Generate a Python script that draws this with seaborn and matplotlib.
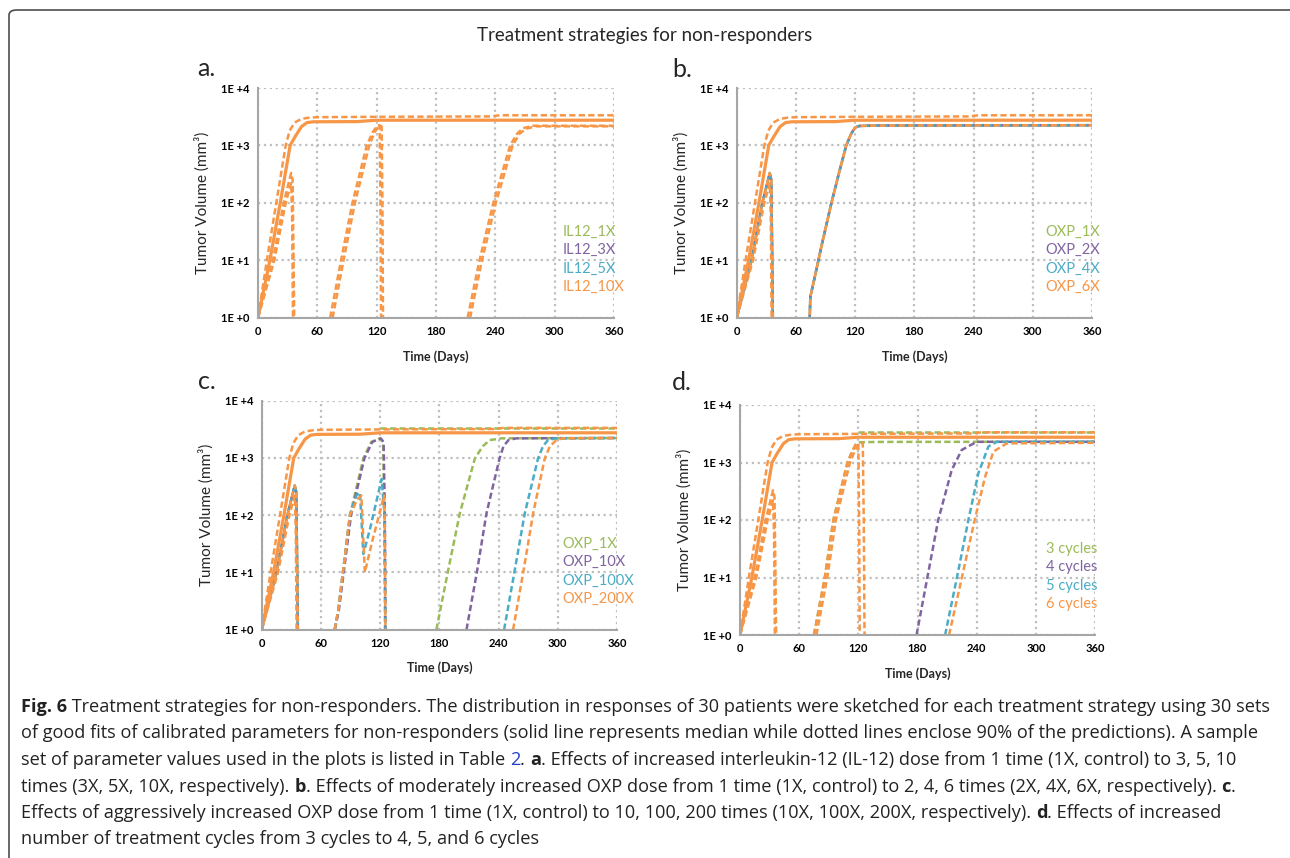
import matplotlib
matplotlib.use("Agg")
import matplotlib.pyplot as plt
from matplotlib.patches import FancyBboxPatch
import seaborn as sns

# ── Excel 2010 series colours ──
GREEN, PURPLE, CYAN, ORANGE = "#9BBB59", "#8064A2", "#4BACC6", "#F79646"
SERIES = [GREEN, PURPLE, CYAN, ORANGE]

# ── shared curves (median / upper 95% / early lower 5%) ──
MED_T = [0, 12, 22.5, 32.5, 37.5, 44, 49.5, 56, 100, 120, 360]
MED_V = [1, 10, 100, 1000, 1420, 2130, 2500, 2580, 2600, 2750, 2750]
UP_T = [0, 9, 18.5, 28, 32, 37, 44, 52, 60, 120, 235, 245, 360]
UP_V = [1, 10, 100, 1000, 1800, 2500, 2900, 3050, 3100, 3150, 3200, 3350, 3350]
LOW_T = [0, 15, 26, 33.5, 35, 36, 36.8]
LOW_V = [1, 10, 100, 330, 250, 10, 0.5]
LOW2_T = [0, 16.5, 28, 33.5, 34.5, 35.5]
LOW2_V = [1, 10, 100, 220, 60, 0.5]
UPG_T = [120, 240, 360]
UPG_V = [3350, 3350, 3350]

# ── panel a : IL-12 dose ──
A_MID_T = [73, 84, 95.5, 110, 116, 121, 123, 123.8, 124.5]
A_MID_V = [1, 10, 100, 1000, 1700, 2250, 2250, 100, 0.5]
A_MID2_T = [75.5, 86.5, 98, 112.5, 118, 122.5, 125, 125.8, 126.5]
A_MID2_V = [1, 10, 100, 1000, 1700, 2200, 2150, 100, 0.5]
A_LATE_T = [212, 224, 238, 255, 262, 268, 278, 360]
A_LATE_V = [1, 10, 100, 1000, 1600, 2000, 2200, 2200]
A_LATE2_T = [214.5, 226.5, 240.5, 257.5, 264.5, 271, 281, 360]
A_LATE2_V = [1, 10, 100, 1000, 1600, 1950, 2150, 2150]

# ── panel b : moderate OXP dose ──
B_REG_T = [74, 74.6, 80, 86, 96, 104, 111, 116, 120, 124, 140, 360]
B_REG_V = [1, 2.3, 6, 18, 100, 350, 1000, 1600, 2050, 2180, 2220, 2250]

# ── panel c : aggressive OXP dose ──
C_MID_G_T = [74, 77.6, 89.4, 103, 111, 120, 123, 124.3, 125]
C_MID_G_V = [1, 2.2, 100, 980, 1900, 2200, 1900, 100, 0.5]
C_MID_P_T = [74, 78.2, 90.5, 104, 112, 120.5, 123.5, 124.8, 125.5]
C_MID_P_V = [1, 2.2, 100, 980, 1900, 2200, 1900, 100, 0.5]
C_MID_C_T = [74, 77.6, 89.4, 96, 99.5, 103, 110, 121.5, 124.5, 125.5]
C_MID_C_V = [1, 2.2, 100, 220, 250, 21, 60, 430, 100, 0.5]
C_MID_O_T = [74, 77.6, 89.4, 97, 101, 104.5, 112, 124, 124.8, 125.5]
C_MID_O_V = [1, 2.2, 100, 190, 220, 10, 35, 220, 50, 0.5]
C_LATE_G_T = [177, 188.5, 200.7, 216, 224, 231, 243, 360]
C_LATE_P_T = [207.5, 218, 227.7, 241, 245, 250, 258, 360]
C_LATE_C_T = [245.6, 256, 266.5, 280, 285, 290, 298, 360]
C_LATE_O_T = [254.7, 265, 275, 286.8, 292, 298.6, 305, 360]
C_LATE_V = [1, 10, 107, 980, 1600, 2050, 2200, 2230]

# ── panel d : number of cycles ──
D_MID_T = [75, 86, 94.7, 109, 114, 118, 120, 120.8, 121.5]
D_MID_V = [1, 10, 100, 1000, 1600, 2150, 2150, 100, 0.5]
D_MID2_T = [77.5, 88.5, 97.2, 111.5, 116.5, 120.5, 124.5, 125.5, 126.4]
D_MID2_V = [1, 10, 100, 1000, 1600, 2150, 2200, 100, 0.5]
D_MID_G_T = [75, 86, 94.7, 109, 114, 118, 122, 140, 360]
D_MID_G_V = [1, 10, 100, 1000, 1600, 2150, 2250, 2280, 2300]
D_LATE_P_T = [179, 190, 201, 214.7, 224.8, 240, 360]
D_LATE_P_V = [1, 10, 100, 740, 1650, 2290, 2290]
D_LATE_C_T = [208, 220, 231.6, 241.7, 251.9, 260.3, 360]
D_LATE_C_V = [1, 10, 100, 650, 1900, 2290, 2290]
D_LATE_O_T = [212, 225, 238, 248.5, 257, 270.5, 360]
D_LATE_O_V = [1, 10, 100, 560, 1550, 2150, 2200]

# ── legends / ticks ──
LEG_A = ["IL12_1X", "IL12_3X", "IL12_5X", "IL12_10X"]
LEG_B = ["OXP_1X", "OXP_2X", "OXP_4X", "OXP_6X"]
LEG_C = ["OXP_1X", "OXP_10X", "OXP_100X", "OXP_200X"]
LEG_D = ["3 cycles", "4 cycles", "5 cycles", "6 cycles"]
X_TICKS = [0, 60, 120, 180, 240, 300, 360]
Y_TICKS = [1, 10, 100, 1000, 10000]
Y_LABELS = ["1E +0", "1E +1", "1E +2", "1E +3", "1E +4"]

TITLE = "Treatment strategies for non-responders"
# caption: (text, style) pieces per line
CAPTION = [
    [("Fig. 6", "b"), (" Treatment strategies for non-responders. The distribution in responses of 30 patients were sketched for each treatment strategy using 30 sets", "n")],
    [("of good fits of calibrated parameters for non-responders (solid line represents median while dotted lines enclose 90% of the predictions). A sample", "n")],
    [("set of parameter values used in the plots is listed in Table ", "n"), ("2", "link"), (". ", "n"), ("a", "b"),
     (". Effects of increased interleukin-12 (IL-12) dose from 1 time (1X, control) to 3, 5, 10", "n")],
    [("times (3X, 5X, 10X, respectively). ", "n"), ("b", "b"),
     (". Effects of moderately increased OXP dose from 1 time (1X, control) to 2, 4, 6 times (2X, 4X, 6X, respectively). ", "n"),
     ("c", "b"), (".", "n")],
    [("Effects of aggressively increased OXP dose from 1 time (1X, control) to 10, 100, 200 times (10X, 100X, 200X, respectively). ", "n"),
     ("d", "b"), (". Effects of increased", "n")],
    [("number of treatment cycles from 3 cycles to 4, 5, and 6 cycles", "n")],
]

sns.set_theme(style="white")
plt.rcParams['font.family'] = ['Lato', 'DejaVu Sans']

W, H = 1290, 858
fig = plt.figure(figsize=(W / 100, H / 100), dpi=100)

DASH = (2.5, 1.3)


def dashed(ax, t, v, color, off=0.0, lw=1.8):
    sns.lineplot(x=t, y=v, ax=ax, color=color, linewidth=lw, linestyle=(off, DASH),
                 sort=False, estimator=None, errorbar=None)


def shared(ax, mix=False):
    # upper bound, early lower bounds
    dashed(ax, UP_T, UP_V, ORANGE)
    if mix:
        for i, c in enumerate(SERIES):
            dashed(ax, LOW_T, LOW_V, c, off=i * 0.9)
    else:
        dashed(ax, LOW_T, LOW_V, ORANGE)
    dashed(ax, LOW2_T, LOW2_V, ORANGE)


def median(ax):
    sns.lineplot(x=MED_T, y=MED_V, ax=ax, color=ORANGE, linewidth=2.3,
                 sort=False, estimator=None, errorbar=None)


def style_axes(ax, labels, lx):
    ax.set_yscale("log")
    ax.set_xlim(0, 360)
    ax.set_ylim(1, 10000)
    ax.minorticks_off()
    ax.set_xticks(X_TICKS)
    ax.set_xticklabels([str(x) for x in X_TICKS], fontweight="bold", fontsize=8)
    ax.set_yticks(Y_TICKS)
    ax.set_yticklabels(Y_LABELS, fontweight="bold", fontsize=8)
    ax.grid(True, linestyle=":", color="#BFBFBF", linewidth=1.6)
    ax.set_axisbelow(True)
    for s in ["top", "right"]:
        ax.spines[s].set_visible(False)
    for s in ["left", "bottom"]:
        ax.spines[s].set_color("#A6A6A6")
        ax.spines[s].set_linewidth(1.5)
    ax.tick_params(direction="out", length=4, width=1.2, color="#A6A6A6", pad=2,
                   labelcolor="black")
    ax.set_xlabel("Time (Days)", fontweight="bold", fontsize=9)
    ax.set_ylabel("Tumor Volume (mm³)", fontsize=11)
    ax.xaxis.set_label_coords(0.5, -0.14)
    ax.yaxis.set_label_coords(-0.135, 0.5)
    for i, (lab, c) in enumerate(zip(labels, SERIES)):
        ax.text(lx, 0.374 - i * 0.08, lab, color=c, fontsize=10.5, va="center",
                transform=ax.transAxes)


def add_axes(left, right, top, bottom):
    return fig.add_axes([left / W, 1 - bottom / H, (right - left) / W, (bottom - top) / H])


# ── panel a ──
ax = add_axes(258, 614, 88, 317.7)
shared(ax)
dashed(ax, A_MID_T, A_MID_V, ORANGE)
dashed(ax, A_MID2_T, A_MID2_V, ORANGE)
dashed(ax, A_LATE_T, A_LATE_V, ORANGE)
dashed(ax, A_LATE2_T, A_LATE2_V, ORANGE)
median(ax)
style_axes(ax, LEG_A, 0.856)

# ── panel b ──
ax = add_axes(736.7, 1092, 88, 317.7)
shared(ax, mix=True)
for i, c in enumerate(SERIES):
    dashed(ax, B_REG_T, B_REG_V, c, off=i * 0.9)
median(ax)
style_axes(ax, LEG_B, 0.868)

# ── panel c ──
ax = add_axes(261.7, 617, 400.7, 629.7)
dashed(ax, UPG_T, UPG_V, GREEN)
shared(ax, mix=True)
for t, v, c in [(C_MID_G_T, C_MID_G_V, GREEN), (C_MID_P_T, C_MID_P_V, PURPLE),
                (C_MID_C_T, C_MID_C_V, CYAN), (C_MID_O_T, C_MID_O_V, ORANGE),
                (C_LATE_G_T, C_LATE_V, GREEN), (C_LATE_P_T, C_LATE_V, PURPLE),
                (C_LATE_C_T, C_LATE_V, CYAN), (C_LATE_O_T, C_LATE_V, ORANGE)]:
    dashed(ax, t, v, c)
median(ax)
style_axes(ax, LEG_C, 0.847)

# ── panel d ──
ax = add_axes(740, 1095, 405, 635)
dashed(ax, UPG_T, UPG_V, GREEN)
dashed(ax, D_MID_G_T, D_MID_G_V, GREEN)
shared(ax)
for t, v, c in [(D_MID_T, D_MID_V, ORANGE), (D_MID2_T, D_MID2_V, ORANGE),
                (D_LATE_P_T, D_LATE_P_V, PURPLE), (D_LATE_C_T, D_LATE_C_V, CYAN),
                (D_LATE_O_T, D_LATE_O_V, ORANGE)]:
    dashed(ax, t, v, c)
median(ax)
style_axes(ax, LEG_D, 0.861)

# ── title, panel letters, frame ──
fig.text(645 / W, 1 - 36 / H, TITLE, ha="center", va="center", fontsize=13.5)
for lab, x, y in [("a.", 197, 76), ("b.", 672, 77), ("c.", 198, 389), ("d.", 672, 390)]:
    fig.text(x / W, 1 - y / H, lab, fontsize=18, va="baseline")

frame = FancyBboxPatch((9 / W, -0.1), 1.2, 0.1 + 1 - 10 / H, transform=fig.transFigure,
                       boxstyle="round,pad=0,rounding_size=0.006", fill=False,
                       edgecolor="#4D4D4D", linewidth=1.2, clip_on=False)
fig.patches.append(frame)

# ── caption (mixed bold / link pieces) ──
renderer = fig.canvas.get_renderer()
CAP_FONT = ['Open Sans', 'DejaVu Sans']
CAP_SIZE = 13.1
STYLES = {"n": dict(fontweight="normal", color="#222222"),
          "b": dict(fontweight="bold", color="#222222"),
          "link": dict(fontweight="normal", color="#2140C8")}


def width_px(s, kw):
    t = fig.text(0, 0, s + "|", family=CAP_FONT, fontsize=CAP_SIZE, **kw)
    w1 = t.get_window_extent(renderer).width
    t.remove()
    t = fig.text(0, 0, "|", family=CAP_FONT, fontsize=CAP_SIZE, **kw)
    w2 = t.get_window_extent(renderer).width
    t.remove()
    return w1 - w2


for i, line in enumerate(CAPTION):
    x = 21
    y = 707 + i * 26.5
    for s, st in line:
        fig.text(x / W, 1 - y / H, s, family=CAP_FONT, fontsize=CAP_SIZE, va="center",
                 **STYLES[st])
        x += width_px(s, STYLES[st])

fig.savefig("out.png", dpi=100)
